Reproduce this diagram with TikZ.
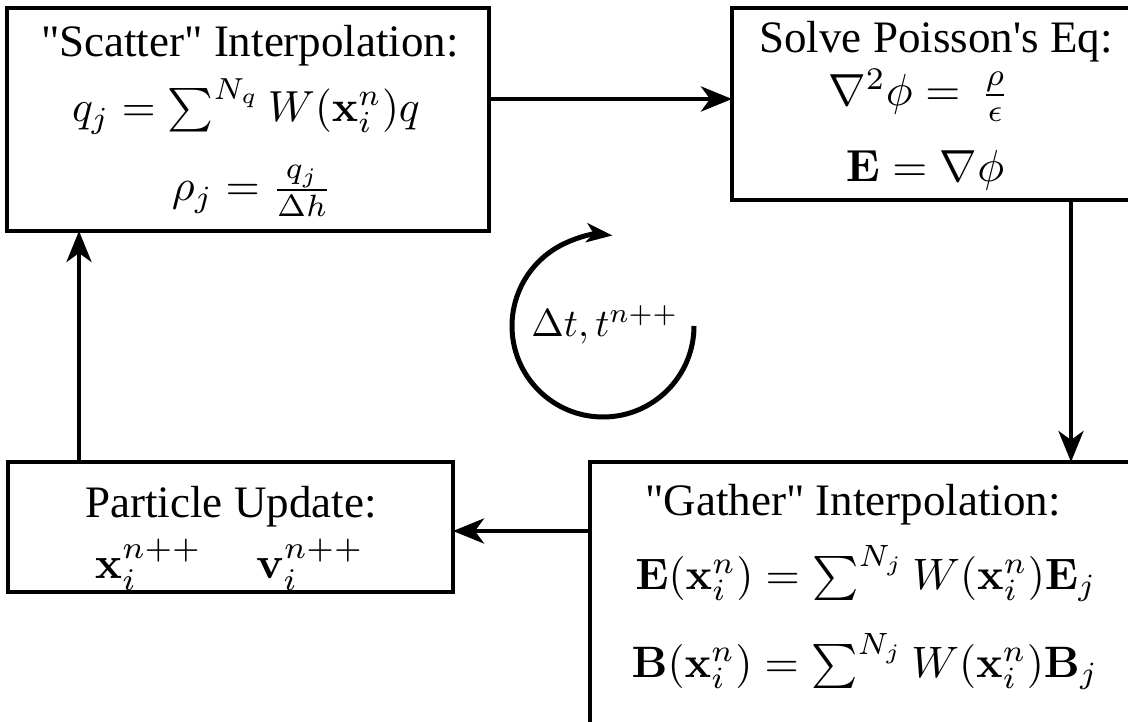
\documentclass[tikz,border=0pt]{standalone}
\usepackage[no-math]{fontspec}
\newfontfamily\tnr{Liberation Serif}
\setmainfont{Liberation Serif}
\usetikzlibrary{arrows.meta}
\begin{document}
\begin{tikzpicture}[x=1pt,y=-1pt,
  box/.style={draw, line width=4.5pt, rectangle, inner sep=0pt, outer sep=0pt},
  txt/.style={inner sep=0pt, anchor=base, font=\tnr, scale=4.5},
  mth/.style={inner sep=0pt, anchor=base, scale=#1},
  mth/.default=4.5,
  arr/.style={line width=4.5pt, -{Stealth[length=31pt,width=25pt,inset=9pt]}},
  cyc/.style={line width=5pt, -{Stealth[length=26pt,width=19pt,inset=7pt]}},
]
\useasboundingbox (0,0) rectangle (1128,722);
\clip (0,0) rectangle (1128,722);
% boxes
\node[box, minimum width=482pt, minimum height=223pt] (b1) at (248,119.5) {};
\node[box, minimum width=408pt, minimum height=192pt] (b2) at (936,104) {};
\node[box, minimum width=545pt, minimum height=290pt] (b3) at (862.5,607) {};
\node[box, minimum width=445pt, minimum height=130pt] (b4) at (230.5,527) {};
% box 1 texts
\node[txt] (t1a) at (250,57) {\symbol{34}Scatter\symbol{34} Interpolation:};
\node[mth=4.35] (t1b) at (246,121.5) {$q_j = \sum^{N_q} W(\mathbf{x}_i^n) q$};
\node[mth=4.4] (t1c) at (252,201) {$\rho_j = \frac{q_j}{\Delta h}$};
% box 2 texts
\node[txt] (t2a) at (936,53) {Solve Poisson's Eq:};
\node[mth] (t2b) at (919,106) {$\nabla^2\phi = \,\frac{\rho}{\epsilon}$};
\node[mth] (t2c) at (925,182) {$\mathbf{E} = \nabla\phi$};
% box 3 texts
\node[txt] (t3a) at (853,515) {\symbol{34}Gather\symbol{34} Interpolation:};
\node[mth=4.4] (t3b) at (866,589) {$\mathbf{E}(\mathbf{x}_i^n) = \sum^{N_j} W(\mathbf{x}_i^n)\mathbf{E}_j$};
\node[mth=4.4] (t3c) at (865,677) {$\mathbf{B}(\mathbf{x}_i^n) = \sum^{N_j} W(\mathbf{x}_i^n)\mathbf{B}_j$};
% box 4 texts
\node[txt] (t4a) at (231,517) {Particle Update:};
\node[mth=4.5] (t4b) at (148.5,578) {$\mathbf{x}_i^{n++}$};
\node[mth=4.5] (t4c) at (310,578) {$\mathbf{v}_i^{n++}$};
% connectors
\draw[arr] (b1.east |- 0,99) -- (b2.west |- 0,99);
\draw[arr] (b2.south -| 1071,0) -- (b3.north -| 1071,0);
\draw[arr] (b3.west |- 0,531) -- (b4.east |- 0,531);
\draw[arr] (b4.north -| 79,0) -- (b1.south -| 79,0);
% cycle
\node[mth=3.9] (cyc) at (605,337) {$\Delta t, t^{n++}$};
\draw[cyc] (694,326) arc[start angle=0, end angle=276, radius=91];
\end{tikzpicture}
\end{document}
